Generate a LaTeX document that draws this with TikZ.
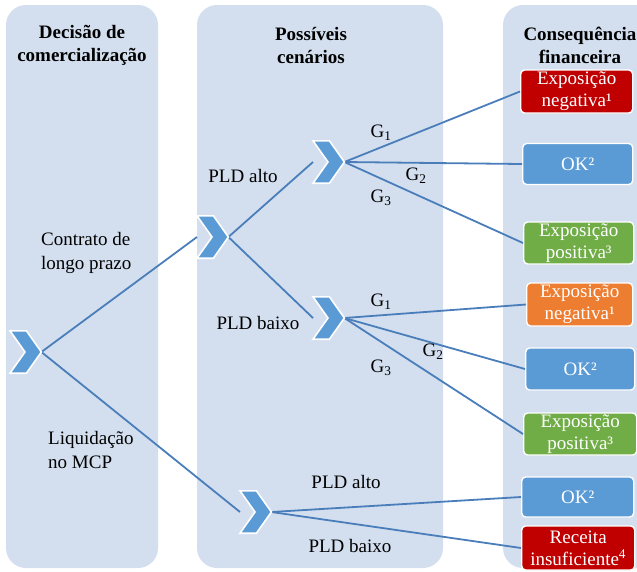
\documentclass[tikz,border=0pt]{standalone}
\usepackage{fontspec}
\setmainfont{Liberation Serif}
\usetikzlibrary{calc}

\definecolor{panel}{RGB}{211,223,239}
\definecolor{linkblue}{RGB}{74,126,187}
\definecolor{chevblue}{RGB}{91,155,213}
\definecolor{okblue}{RGB}{91,155,213}
\definecolor{negred}{RGB}{192,0,0}
\definecolor{posgreen}{RGB}{112,173,71}
\definecolor{negorange}{RGB}{237,125,49}

\tikzset{
  panelbox/.style={fill=panel, draw=none, rounded corners=20pt},
  header/.style={font=\fontsize{19}{23}\selectfont\bfseries, align=center, inner sep=0pt},
  lbl/.style={font=\fontsize{19}{24}\selectfont, inner sep=0pt},
  glbl/.style={font=\fontsize{19}{23}\selectfont, inner sep=0pt},
  chevnode/.style={rectangle, draw=none, inner sep=0pt, minimum width=31pt, minimum height=42pt, anchor=west},
  chevshape/.style={fill=chevblue, draw=white, line width=1.6pt, line join=miter},
  conn/.style={draw=linkblue, line width=1.8pt},
  outcome/.style={rectangle, rounded corners=4pt, draw=white, line width=1.4pt, text=white,
    align=center, inner sep=0pt, anchor=west, font=\fontsize{19}{22}\selectfont},
}

\begin{document}
\begin{tikzpicture}[x=1pt, y=-1pt]
  \useasboundingbox (0,0) rectangle (637,571);
  \clip (0,0) rectangle (637,571);

  % three column panels
  \fill[panelbox] (6,5) rectangle (158,568);
  \fill[panelbox] (197,5) rectangle (443,568);
  \fill[panelbox] (503,5) rectangle (660,568);

  % column headings
  \node[header] (h1) at (82,45) {Decisão de\\comercialização};
  \node[header] (h2) at (311,45) {Possíveis\\cenários};
  \node[header] (h3) at (580,45) {Consequência\\financeira};

  % decision points
  \node[chevnode] (c1) at (10,352) {};
  \node[chevnode] (c2) at (197,237) {};
  \node[chevnode] (c3) at (313,162) {};
  \node[chevnode] (c4) at (313,318) {};
  \node[chevnode] (c5) at (240,512) {};

  % outcomes
  \node[outcome, fill=negred, minimum width=112pt, minimum height=43pt] (b1) at (520,91.5) {Exposição\\negativa¹};
  \node[outcome, fill=okblue, minimum width=110pt, minimum height=41pt] (b2) at (522,164) {OK²};
  \node[outcome, fill=posgreen, minimum width=110pt, minimum height=42pt] (b3) at (523,243) {Exposição\\positiva³};
  \node[outcome, fill=negorange, minimum width=106pt, minimum height=43pt] (b4) at (526,304.5) {Exposição\\negativa¹};
  \node[outcome, fill=okblue, minimum width=109pt, minimum height=42pt] (b5) at (525,369) {OK²};
  \node[outcome, fill=posgreen, minimum width=113pt, minimum height=42pt] (b6) at (523,434) {Exposição\\positiva³};
  \node[outcome, fill=okblue, minimum width=112pt, minimum height=40pt] (b7) at (521,497) {OK²};
  \node[outcome, fill=negred, minimum width=113pt, minimum height=44pt] (b8) at (521,548) {Receita\\insuficiente\textsuperscript{4}};

  % connectors
  \draw[conn] (c1.east) -- (c2.west);
  \draw[conn] (c1.east) -- (c5.west);
  \draw[conn] (c2.east) -- (c3.west);
  \draw[conn] (c2.east) -- (c4.west);
  \draw[conn] (c3.east) -- (b1.west);
  \draw[conn] (c3.east) -- (b2.west);
  \draw[conn] (c3.east) -- (b3.west);
  \draw[conn] (c4.east) -- (b4.west);
  \draw[conn] (c4.east) -- (b5.west);
  \draw[conn] (c4.east) -- (b6.west);
  \draw[conn] (c5.east) -- (b7.west);
  \draw[conn] (c5.east) -- (b8.west);

  % chevron glyphs drawn over the connector ends
  \foreach \n in {c1,c2,c3,c4,c5} {
    \draw[chevshape] (\n.north west) -- ($(\n.north east)+(-15,0)$) -- (\n.east)
      -- ($(\n.south east)+(-15,0)$) -- (\n.south west) -- ($(\n.west)+(15,0)$) -- cycle;
  }

  % branch labels
  \node[lbl, align=left, anchor=west] (l1) at (41,253) {Contrato de\\longo prazo};
  \node[lbl, align=left, anchor=west] (l2) at (48,450) {Liquidação\\no MCP};
  \node[lbl] (l3) at (243,176) {PLD alto};
  \node[lbl] (l4) at (258,323) {PLD baixo};
  \node[lbl] (l5) at (346,482) {PLD alto};
  \node[lbl] (l6) at (350,546) {PLD baixo};

  \node[glbl] (g1) at (381,133) {G\textsubscript{1}};
  \node[glbl] (g2) at (416,176) {G\textsubscript{2}};
  \node[glbl] (g3) at (381,198) {G\textsubscript{3}};
  \node[glbl] (g4) at (381,302) {G\textsubscript{1}};
  \node[glbl] (g5) at (433,352) {G\textsubscript{2}};
  \node[glbl] (g6) at (381,368) {G\textsubscript{3}};
\end{tikzpicture}
\end{document}
